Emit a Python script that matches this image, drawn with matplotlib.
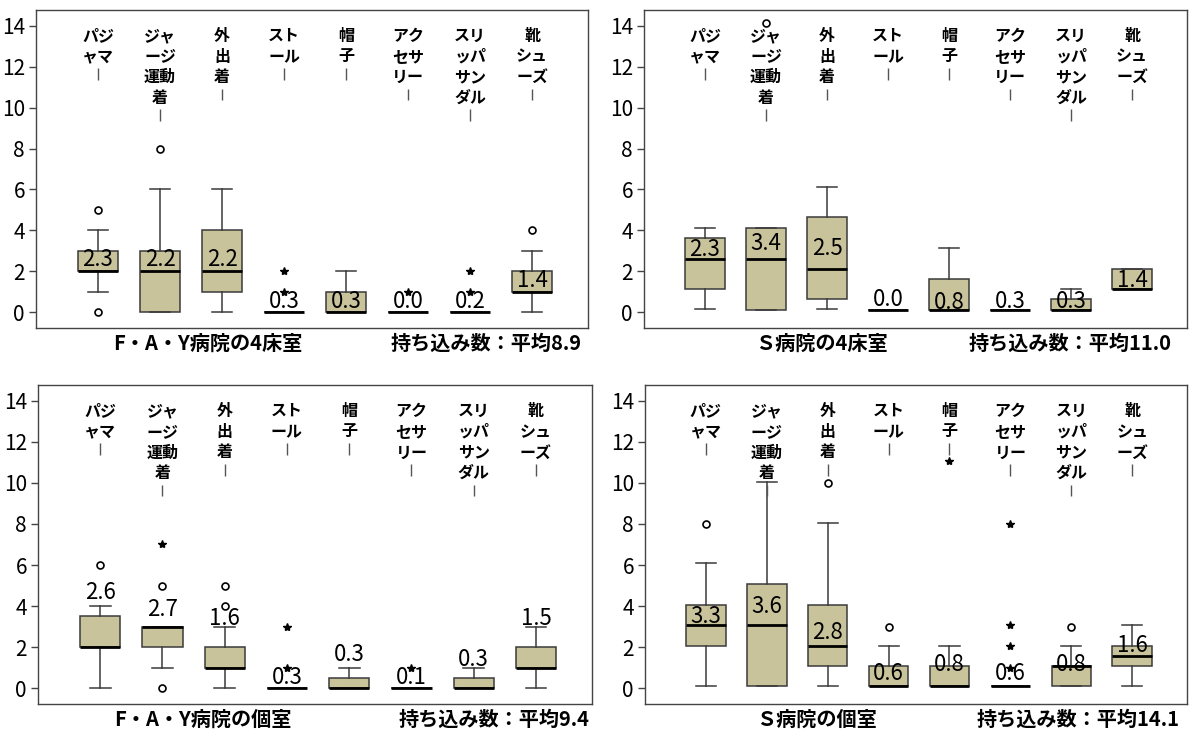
import matplotlib
matplotlib.use("Agg")
import matplotlib.pyplot as plt

plt.rcParams["font.family"] = ["Noto Sans CJK JP", "DejaVu Sans"]

# item categories, shown as stacked short rows above each box
CATEGORIES = ["パジャマ", "ジャージ運動着", "外出着", "ストール", "帽子",
              "アクセサリー", "スリッパサンダル", "靴シューズ"]
LABEL_ROWS = [["パジ", "ャマ"], ["ジャ", "ージ", "運動", "着"], ["外", "出", "着"],
              ["スト", "ール"], ["帽", "子"], ["アク", "セサ", "リー"],
              ["スリ", "ッパ", "サン", "ダル"], ["靴", "シュ", "ーズ"]]

# F・A・Y病院の4床室
FAY4_LO = [1, 0, 0, 0, 0, 0, 0, 0]
FAY4_Q1 = [2, 0, 1, 0, 0, 0, 0, 1]
FAY4_MED = [2, 2, 2, 0, 0, 0, 0, 1]
FAY4_Q3 = [3, 3, 4, 0, 1, 0, 0, 2]
FAY4_HI = [4, 6, 6, 0, 2, 0, 0, 3]
FAY4_CIRCLES = [[0, 5], [8], [], [], [], [], [], [4]]
FAY4_STARS = [[], [], [], [1, 2], [], [1], [1, 2], []]
FAY4_MEANS = [2.3, 2.2, 2.2, 0.3, 0.3, 0.0, 0.2, 1.4]

# Ｓ病院の4床室
S4_LO = [0.15, 0.11, 0.15, 0.11, 0.11, 0.11, 0.11, 1.12]
S4_Q1 = [1.12, 0.11, 0.64, 0.11, 0.11, 0.11, 0.11, 1.12]
S4_MED = [2.62, 2.62, 2.13, 0.11, 0.11, 0.11, 0.11, 1.12]
S4_Q3 = [3.62, 4.10, 4.63, 0.11, 1.61, 0.11, 0.64, 2.13]
S4_HI = [4.10, 4.10, 6.13, 0.11, 3.13, 0.11, 1.12, 2.13]
S4_CIRCLES = [[], [14.15], [], [], [], [], [], []]
S4_STARS = [[], [], [], [], [], [], [], []]
S4_MEANS = [2.3, 3.4, 2.5, 0.0, 0.8, 0.3, 0.3, 1.4]

# F・A・Y病院の個室
FAY1_LO = [0, 1, 0, 0, 0, 0, 0, 0]
FAY1_Q1 = [2, 2, 1, 0, 0, 0, 0, 1]
FAY1_MED = [2, 3, 1, 0, 0, 0, 0, 1]
FAY1_Q3 = [3.5, 3, 2, 0, 0.5, 0, 0.5, 2]
FAY1_HI = [4, 3, 3, 0, 1, 0, 1, 3]
FAY1_CIRCLES = [[6], [0, 5], [4, 5], [], [], [], [], []]
FAY1_STARS = [[], [7], [], [1, 3], [], [1], [], []]
FAY1_MEANS = [2.6, 2.7, 1.6, 0.3, 0.3, 0.1, 0.3, 1.5]

# Ｓ病院の個室
S1_LO = [0.08, 0.08, 0.08, 0.08, 0.08, 0.08, 0.08, 0.08]
S1_Q1 = [2.07, 0.08, 1.09, 0.08, 0.08, 0.08, 0.08, 1.09]
S1_MED = [3.08, 3.08, 2.07, 0.08, 0.08, 0.08, 1.09, 1.58]
S1_Q3 = [4.05, 5.08, 4.05, 1.09, 1.09, 0.08, 1.09, 2.07]
S1_HI = [6.09, 10.04, 8.06, 2.07, 2.07, 0.08, 2.07, 3.08]
S1_CIRCLES = [[8], [], [10], [3], [], [], [3], []]
S1_STARS = [[], [], [], [], [11.07], [1, 2.07, 3.06, 8], [], []]
S1_MEANS = [3.3, 3.6, 2.8, 0.6, 0.8, 0.6, 0.8, 1.6]

PANELS = [
    dict(name="F・A・Y病院の4床室", total="持ち込み数：平均8.9",
         lo=FAY4_LO, q1=FAY4_Q1, med=FAY4_MED, q3=FAY4_Q3, hi=FAY4_HI,
         circles=FAY4_CIRCLES, stars=FAY4_STARS, means=FAY4_MEANS,
         rect=[36, 10, 588, 328], name_x=0.14, total_x=0.989,
         label_y=[2.23, 2.23, 2.23, 0.2, 0.2, 0.2, 0.2, 1.22]),
    dict(name="Ｓ病院の4床室", total="持ち込み数：平均11.0",
         lo=S4_LO, q1=S4_Q1, med=S4_MED, q3=S4_Q3, hi=S4_HI,
         circles=S4_CIRCLES, stars=S4_STARS, means=S4_MEANS,
         rect=[644, 10, 1187, 328], name_x=0.205, total_x=0.972,
         label_y=[2.72, 3.05, 2.8, 0.31, 0.15, 0.2, 0.2, 1.25]),
    dict(name="F・A・Y病院の個室", total="持ち込み数：平均9.4",
         lo=FAY1_LO, q1=FAY1_Q1, med=FAY1_MED, q3=FAY1_Q3, hi=FAY1_HI,
         circles=FAY1_CIRCLES, stars=FAY1_STARS, means=FAY1_MEANS,
         rect=[38, 385, 592, 704], name_x=0.137, total_x=0.996,
         label_y=[4.35, 3.53, 3.09, 0.2, 1.3, 0.2, 1.09, 3.09]),
    dict(name="Ｓ病院の個室", total="持ち込み数：平均14.1",
         lo=S1_LO, q1=S1_Q1, med=S1_MED, q3=S1_Q3, hi=S1_HI,
         circles=S1_CIRCLES, stars=S1_STARS, means=S1_MEANS,
         rect=[645, 385, 1187, 704], name_x=0.205, total_x=0.987,
         label_y=[3.17, 3.66, 2.39, 0.41, 0.81, 0.41, 0.81, 1.74]),
]

W, H = 1192, 731
BOX_COLOR = "#C8C39B"
LINE_COLOR = "#3a3a3a"

fig = plt.figure(figsize=(W / 100, H / 100), dpi=100)
fig.patch.set_facecolor("white")

positions = list(range(1, len(CATEGORIES) + 1))

for p in PANELS:
    x0, y0, x1, y1 = p["rect"]
    ax = fig.add_axes([x0 / W, 1 - y1 / H, (x1 - x0) / W, (y1 - y0) / H])

    stats = []
    for i, cat in enumerate(CATEGORIES):
        stats.append(dict(label=cat, whislo=p["lo"][i], q1=p["q1"][i],
                          med=p["med"][i], q3=p["q3"][i], whishi=p["hi"][i],
                          fliers=[]))
    ax.bxp(stats, positions=positions, widths=0.65, patch_artist=True,
           showfliers=False,
           boxprops=dict(facecolor=BOX_COLOR, edgecolor=LINE_COLOR, linewidth=1.1),
           whiskerprops=dict(color=LINE_COLOR, linewidth=1.1),
           capprops=dict(color=LINE_COLOR, linewidth=1.1),
           medianprops=dict(color="black", linewidth=2.0),
           capwidths=0.33)

    for i, pos in enumerate(positions):
        if p["circles"][i]:
            ax.plot([pos] * len(p["circles"][i]), p["circles"][i], "o",
                    mfc="white", mec="black", mew=1.2, ms=5, zorder=4)
        if p["stars"][i]:
            ax.plot([pos] * len(p["stars"][i]), p["stars"][i], "*",
                    color="black", ms=6, zorder=4)
        ax.text(pos, p["label_y"][i], f"{p['means'][i]:.1f}", ha="center",
                va="baseline", fontsize=16, color="black", zorder=5)

        # category name as stacked rows with a short leader line under it
        rows = LABEL_ROWS[i]
        for r, txt in enumerate(rows):
            ax.text(pos, 13.51 - r * 1.01, txt, ha="center", va="center",
                    fontsize=11.5, fontweight="bold", color="black")
        yc = 13.51 - len(rows) * 1.01
        ax.vlines(pos, yc - 0.12, yc + 0.45, color="#555555", linewidth=1.0)

    ax.set_xlim(0.0, 8.9)
    ax.set_ylim(-0.78, 14.78)
    ax.set_xticks([])
    ax.set_yticks(range(0, 15, 2))
    ax.set_yticklabels([str(v) for v in range(0, 15, 2)], fontsize=15)
    ax.tick_params(axis="y", length=5, width=1, color="#444444", pad=3)
    for spine in ax.spines.values():
        spine.set_edgecolor("#444444")
        spine.set_linewidth(1.0)

    ax.text(p["name_x"], -0.048, p["name"], transform=ax.transAxes,
            ha="left", va="center", fontsize=14.5, fontweight="bold")
    ax.text(p["total_x"], -0.048, p["total"], transform=ax.transAxes,
            ha="right", va="center", fontsize=14.5, fontweight="bold")

fig.savefig("out.png", dpi=100, facecolor="white")
